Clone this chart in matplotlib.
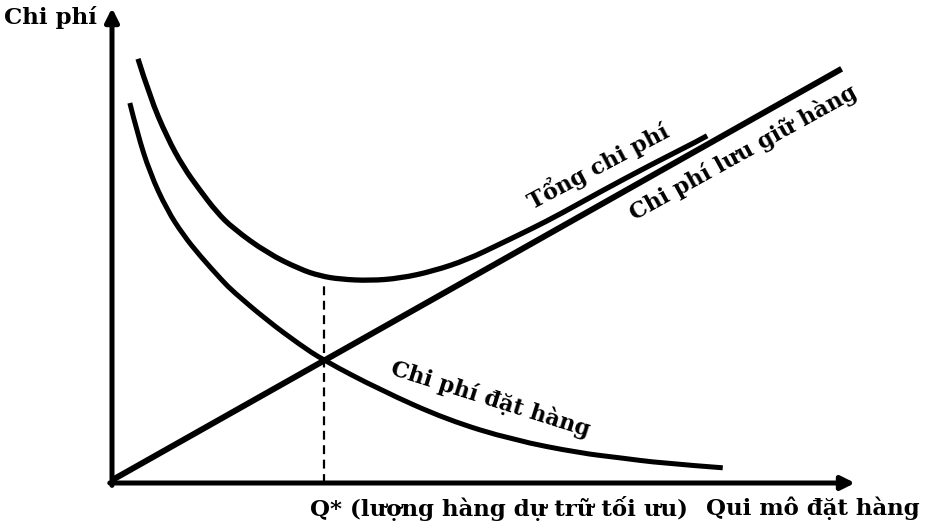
import matplotlib.pyplot as plt
from matplotlib.path import Path
from matplotlib.patches import PathPatch

# ─── DATA (x = order size, y = cost, 0..100 scale) ───
holding_x = [0, 98.2]
holding_y = [0.6, 87.2]

ordering_x = [2.4, 3.4, 5.1, 7.4, 9.6, 11.8, 14.9, 16.3, 20.9, 25.3, 28.4,
              36.1, 45.1, 54.0, 63.0, 68.4, 73.8, 82.2]
ordering_y = [80.0, 73.7, 65.3, 57.5, 52.2, 47.9, 42.5, 40.3, 34.2, 29.1, 25.9,
              19.6, 13.3, 9.05, 6.3, 5.3, 4.2, 3.2]

total_x = [3.5, 5.1, 7.4, 9.6, 11.8, 14.1, 16.3, 20.9, 25.3, 28.0, 30.7, 34.7,
           38.8, 43.2, 47.8, 52.2, 56.7, 60.3, 65.7, 72.4, 79.1, 80.1]
total_y = [89.3, 81.3, 72.8, 66.5, 61.7, 57.0, 53.6, 48.4, 45.0, 43.6, 42.9, 42.6,
           43.1, 44.6, 47.0, 50.3, 53.7, 56.6, 61.3, 66.9, 72.2, 73.1]

q_star = 28.5
q_star_cost = 42.3

plt.rcParams['font.family'] = ['DejaVu Serif']
plt.rcParams['font.weight'] = 'bold'


def smooth(ax, xs, ys, lw):
    # duong cong mem: cac diem doc duoc lam diem dieu khien bezier bac 2
    verts = [(xs[0], ys[0])]
    codes = [Path.MOVETO]
    n = len(xs)
    for i in range(1, n - 1):
        if i < n - 2:
            end = ((xs[i] + xs[i + 1]) / 2, (ys[i] + ys[i + 1]) / 2)
        else:
            end = (xs[i + 1], ys[i + 1])
        verts += [(xs[i], ys[i]), end]
        codes += [Path.CURVE3, Path.CURVE3]
    patch = PathPatch(Path(verts, codes), facecolor='none', edgecolor='black',
                      lw=lw, capstyle='butt', clip_on=False)
    ax.add_patch(patch)


fig = plt.figure(figsize=(9.27, 5.27), dpi=100)
ax = fig.add_axes([112/927, (527-483)/527, (855-112)/927, (483-8)/527])
ax.set_xlim(0, 100)
ax.set_ylim(0, 100)
ax.axis('off')

# truc toa do
arrow = dict(arrowstyle='-|>', lw=3.6, color='black', mutation_scale=20,
             shrinkA=0, shrinkB=0)
ax.annotate('', xy=(100, 0), xytext=(-0.3, 0), arrowprops=arrow, annotation_clip=False)
ax.annotate('', xy=(0, 100), xytext=(0, -0.5), arrowprops=arrow, annotation_clip=False)

# cac duong chi phi
ax.plot(holding_x, holding_y, color='black', lw=4.3, solid_capstyle='butt', clip_on=False)
smooth(ax, ordering_x, ordering_y, 3.6)
smooth(ax, total_x, total_y, 3.8)
ax.plot([q_star, q_star], [0, q_star_cost], color='black', lw=1.6,
        linestyle=(0, (4, 2.5)))

# nhan
ax.text(-14.6, 97.9, 'Chi phí', fontsize=16.5, ha='left', va='center', clip_on=False)
ax.text(26.6, -5.3, 'Q* (lượng hàng dự trữ tối ưu)', fontsize=16.5, ha='left',
        va='center', clip_on=False)
ax.text(108.7, -5.3, 'Qui mô đặt hàng', fontsize=16.5, ha='right', va='center',
        clip_on=False)
ax.text(65.4, 66.8, 'Tổng chi phí', fontsize=16, rotation=28, ha='center', va='center',
        rotation_mode='anchor')
ax.text(85.0, 69.6, 'Chi phí lưu giữ hàng', fontsize=16, rotation=29, ha='center',
        va='center', rotation_mode='anchor', clip_on=False)
ax.text(50.9, 17.6, 'Chi phí đặt hàng', fontsize=16, rotation=-17.5, ha='center',
        va='center', rotation_mode='anchor')

plt.savefig('out.png', dpi=100)
